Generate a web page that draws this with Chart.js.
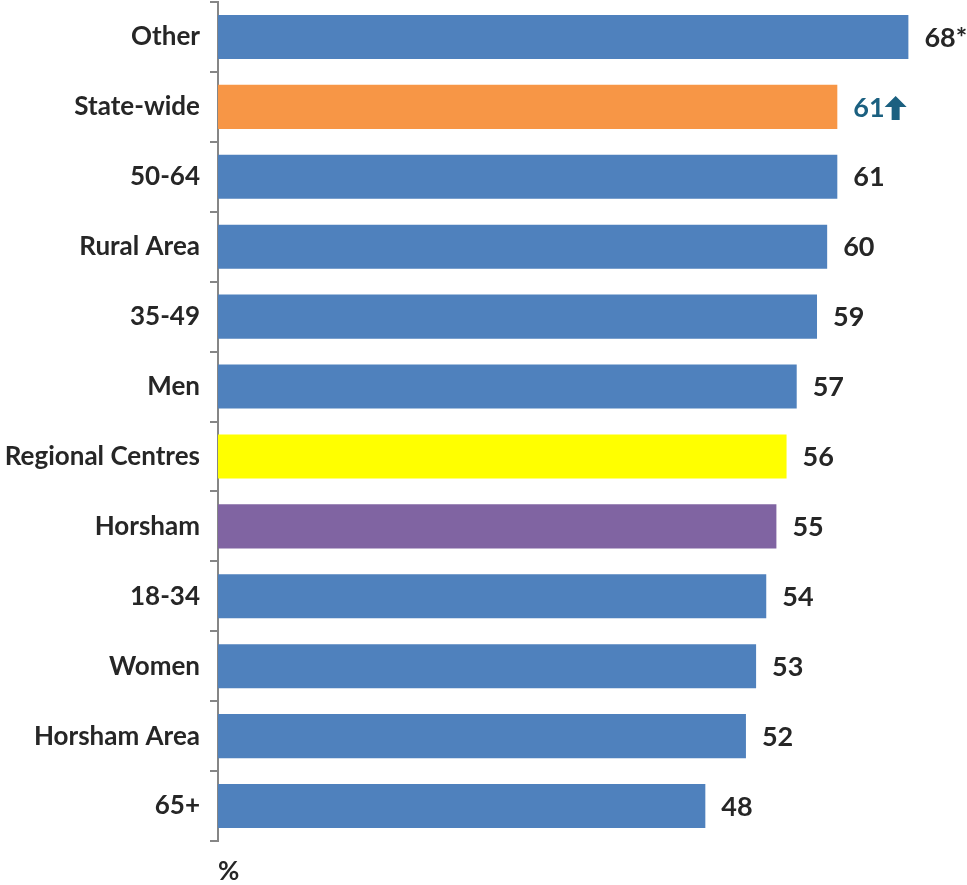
<!DOCTYPE html>
<html>
<head>
<meta charset="utf-8">
<script src="https://cdn.jsdelivr.net/npm/chart.js@4"></script>
<style>
  html, body { margin: 0; padding: 0; background: #fff; }
  #wrap { width: 967px; height: 885px; }
</style>
</head>
<body>
<div id="wrap"><canvas id="grafica"></canvas></div>
<script>
// Categorias y valores (%)
const categorias = ['Other', 'State-wide', '50-64', 'Rural Area', '35-49', 'Men',
  'Regional Centres', 'Horsham', '18-34', 'Women', 'Horsham Area', '65+'];
const valores = [68, 61, 61, 60, 59, 57, 56, 55, 54, 53, 52, 48];
const etiquetas = ['68*', '61', '61', '60', '59', '57', '56', '55', '54', '53', '52', '48'];
const colores = ['#4F81BD', '#F79646', '#4F81BD', '#4F81BD', '#4F81BD', '#4F81BD',
  '#FFFF00', '#8064A2', '#4F81BD', '#4F81BD', '#4F81BD', '#4F81BD'];
// la etiqueta de State-wide va en otro color con flecha
const resaltado = 1;

const fuente = 'Lato, "Open Sans", sans-serif';

// Etiquetas de valor al final de cada barra
const etiquetasPlugin = {
  id: 'etiquetas',
  afterDatasetsDraw(chart) {
    const ctx = chart.ctx;
    const meta = chart.getDatasetMeta(0);
    ctx.save();
    ctx.font = 'bold 27px ' + fuente;
    ctx.textBaseline = 'middle';
    ctx.textAlign = 'left';
    meta.data.forEach((bar, i) => {
      const x = bar.x + 16;
      const y = bar.y + 1;
      if (i === resaltado) {
        ctx.fillStyle = '#1B6080';
        ctx.fillText(etiquetas[i], x, y);
        // flecha hacia arriba
        const ax = x + ctx.measureText(etiquetas[i]).width + 11;
        ctx.beginPath();
        ctx.moveTo(ax, y - 12);
        ctx.lineTo(ax + 11, y - 1);
        ctx.lineTo(ax + 4, y - 1);
        ctx.lineTo(ax + 4, y + 12);
        ctx.lineTo(ax - 4, y + 12);
        ctx.lineTo(ax - 4, y - 1);
        ctx.lineTo(ax - 11, y - 1);
        ctx.closePath();
        ctx.fill();
      } else {
        ctx.fillStyle = '#262626';
        ctx.fillText(etiquetas[i], x, y);
      }
    });
    ctx.restore();
  }
};

new Chart(document.getElementById('grafica'), {
  type: 'bar',
  data: {
    labels: categorias,
    datasets: [{
      data: valores,
      backgroundColor: colores,
      borderWidth: 0,
      barPercentage: 0.63,
      categoryPercentage: 1
    }]
  },
  options: {
    indexAxis: 'y',
    responsive: true,
    maintainAspectRatio: false,
    animation: false,
    layout: { padding: { top: 2, right: 18, left: 0, bottom: 0 } },
    plugins: {
      legend: { display: false },
      tooltip: { enabled: false }
    },
    scales: {
      x: {
        min: 0,
        max: 72,
        ticks: { display: false },
        grid: { display: false, drawTicks: false },
        border: { display: false },
        title: {
          display: true,
          text: '%',
          align: 'start',
          color: '#262626',
          font: { family: fuente, size: 26, weight: 'bold', lineHeight: 1 },
          padding: { top: 18, bottom: 0 }
        }
      },
      y: {
        afterFit(scale) {
          scale.width = 218;
          scale.paddingTop = 0;
          scale.paddingBottom = 0;
        },
        grid: {
          offset: true,
          drawOnChartArea: false,
          tickLength: 8,
          color: '#868686',
          lineWidth: 2
        },
        border: { color: '#868686', width: 2 },
        ticks: {
          color: '#262626',
          padding: 10,
          font: { family: fuente, size: 26, weight: 'bold' }
        }
      }
    }
  },
  plugins: [etiquetasPlugin]
});
</script>
</body>
</html>
